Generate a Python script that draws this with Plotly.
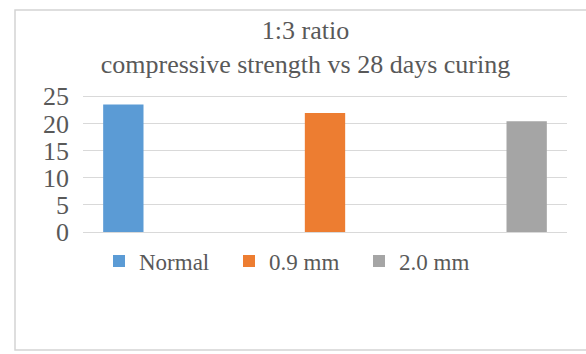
import plotly.graph_objects as go

# Compressive strength after 28 days of curing, 1:3 mix ratio
categories = ["Normal", "0.9 mm", "2.0 mm"]
strength = [23.5, 21.9, 20.4]
colors = ["#5B9BD5", "#ED7D31", "#A5A5A5"]
y_ticks = [0, 5, 10, 15, 20, 25]
y_max = 25.6

W, H = 586, 354
M_L, M_R, M_T, M_B = 83, 19, 93, 122
plot_w = W - M_L - M_R
plot_h = H - M_T - M_B


def px_x(px):
    return (px - M_L) / plot_w


def px_y(py):
    return (H - M_B - py) / plot_h


fig = go.Figure()
for i, (name, val, col) in enumerate(zip(categories, strength, colors)):
    ys = [val if j == i else None for j in range(len(categories))]
    fig.add_trace(go.Bar(x=categories, y=ys, name=name, marker_color=col,
                         marker_line_width=0))

text_col = "#595959"
font_family = "Liberation Serif, Times New Roman, serif"

fig.update_layout(
    width=W, height=H,
    margin=dict(l=M_L, r=M_R, t=M_T, b=M_B, pad=0),
    paper_bgcolor="white", plot_bgcolor="white",
    barmode="group", bargap=0.25, bargroupgap=0,
    font=dict(family=font_family, color=text_col),
    title=dict(text="1:3 ratio<br>compressive strength vs 28 days curing",
               x=305.5 / W, xanchor="center", xref="container",
               y=1 - 39 / H, yanchor="middle", yref="container",
               font=dict(size=26, color=text_col, family=font_family)),
    legend=dict(orientation="h", x=px_x(99), xanchor="left",
                y=px_y(261), yanchor="middle",
                font=dict(size=23, color=text_col, family=font_family),
                entrywidth=85, entrywidthmode="pixels",
                bgcolor="rgba(0,0,0,0)", borderwidth=0),
    showlegend=True,
)
fig.update_xaxes(showticklabels=False, showgrid=False, showline=False,
                 zeroline=False, ticks="")
fig.update_yaxes(range=[0, y_max], tickvals=y_ticks, showgrid=True,
                 gridcolor="#D9D9D9", gridwidth=1, zeroline=True,
                 zerolinecolor="#D9D9D9", zerolinewidth=1, showline=False,
                 ticks="", ticklabelstandoff=13,
                 tickfont=dict(size=26, color=text_col, family=font_family))

# Chart frame
fig.add_shape(type="rect", xref="paper", yref="paper",
              x0=px_x(15), x1=px_x(600), y0=px_y(350), y1=px_y(10),
              line=dict(color="#D4D4D4", width=1.5), layer="below")

fig.write_html("out.html")
